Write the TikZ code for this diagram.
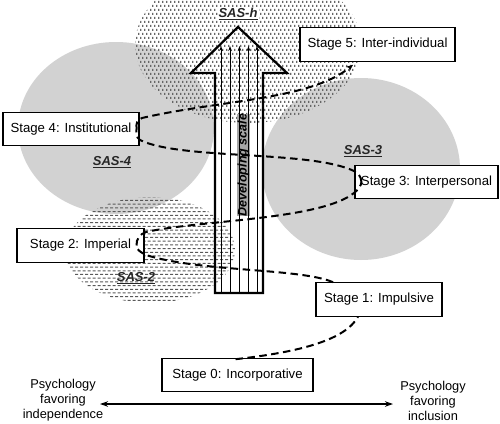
\documentclass[tikz,border=0pt]{standalone}
\usepackage{fontspec}
\setmainfont{Liberation Sans}
\usetikzlibrary{arrows.meta,patterns}
\pgfdeclarepatternformonly{sasdots}{\pgfqpoint{-1pt}{-1pt}}{\pgfqpoint{9pt}{9pt}}{\pgfqpoint{8pt}{8pt}}{%
  \pgfpathrectangle{\pgfqpoint{0pt}{0pt}}{\pgfqpoint{1.3pt}{2.2pt}}%
  \pgfpathrectangle{\pgfqpoint{4pt}{0pt}}{\pgfqpoint{1.3pt}{2.2pt}}%
  \pgfpathrectangle{\pgfqpoint{2pt}{4pt}}{\pgfqpoint{1.3pt}{2.2pt}}%
  \pgfpathrectangle{\pgfqpoint{6pt}{4pt}}{\pgfqpoint{1.3pt}{2.2pt}}%
  \pgfusepath{fill}}
\pgfdeclarepatternformonly{sasdash}{\pgfqpoint{-1pt}{-1pt}}{\pgfqpoint{12pt}{9pt}}{\pgfqpoint{10pt}{7.4pt}}{%
  \pgfpathrectangle{\pgfqpoint{0pt}{0pt}}{\pgfqpoint{3pt}{1pt}}%
  \pgfpathrectangle{\pgfqpoint{5pt}{0pt}}{\pgfqpoint{3pt}{1pt}}%
  \pgfpathrectangle{\pgfqpoint{2.5pt}{3.7pt}}{\pgfqpoint{3pt}{1pt}}%
  \pgfpathrectangle{\pgfqpoint{7.5pt}{3.7pt}}{\pgfqpoint{3pt}{1pt}}%
  \pgfusepath{fill}}
\begin{document}
\begin{tikzpicture}[x=1pt,y=-1pt,
  stagebox/.style={draw,line width=1.1pt,fill=white,minimum height=33.5pt,inner sep=0pt,font=\fontsize{13.2}{15}\selectfont},
  saslabel/.style={font=\fontsize{13}{15}\selectfont\bfseries\itshape,text=black!85,inner sep=1pt},
  conn/.style={line width=2pt,dash pattern=on 7.5pt off 4.5pt},
  sidelabel/.style={align=center,font=\fontsize{12.8}{15}\selectfont,inner sep=0pt},
  innerline/.style={line width=0.8pt,-{Stealth[length=5pt,width=3.5pt]}}
  ]
\path[use as bounding box,fill=white] (0,0) rectangle (500,423);
% regions
\fill[gray!35] (116,128) ellipse [x radius=98pt, y radius=86pt];
\fill[gray!35] (361,169) ellipse [x radius=99pt, y radius=91pt];
\fill[pattern=sasdots,pattern color=black!60] (248,45) ellipse [x radius=113pt, y radius=78pt];
\fill[pattern=sasdash,pattern color=black!65] (150,250) ellipse [x radius=85pt, y radius=53pt];
% developing scale arrow
\node[fill=gray!70,inner sep=0.4pt,rotate=90,font=\fontsize{12.5}{15}\selectfont\bfseries\itshape] (devscale) at (243.5,165) {Developing scale};
\foreach \xx in {221,230,239.5,248.5,257}
  \draw[innerline] (\xx,293) -- (\xx,46);
\draw[line width=2.2pt,line join=miter] (215,293) -- (215,73) -- (191,73) -- (238,27) -- (287,73) -- (263,73) -- (263,293) -- cycle;
% labels
\node[saslabel,fill=white] (sash) at (238,14) {\underline{SAS-h}};
\node[saslabel] (sas4) at (112,162) {\underline{SAS-4}};
\node[saslabel] (sas3) at (363,151) {\underline{SAS-3}};
\node[saslabel] (sas2) at (136,278) {\underline{SAS-2}};
% stages
\node[stagebox,minimum width=155pt] (s5) at (377.5,44.5) {Stage 5: Inter-individual};
\node[stagebox,minimum width=136pt] (s4) at (71,129) {Stage 4: Institutional};
\node[stagebox,minimum width=143pt] (s3) at (426.5,182) {Stage 3: Interpersonal};
\node[stagebox,minimum width=127pt] (s2) at (80.5,245.5) {Stage 2: Imperial\hspace{6pt}};
\node[stagebox,minimum width=126pt] (s1) at (379,299.5) {Stage 1: Impulsive};
\node[stagebox,minimum width=151pt] (s0) at (237.5,375) {Stage 0: Incorporative};
% connectors
\draw[conn] ([xshift=-2pt,yshift=-1.5pt]s0.north) .. controls (300,352) and (345,340) .. ([xshift=-21pt]s1.south);
\draw[conn] ([xshift=-46pt]s1.north) .. controls (300,268) and (200,272) .. (146,255) .. controls (140,252) and (136,249) .. ([xshift=-8pt]s2.east);
\draw[conn] ([xshift=-8pt]s2.east) .. controls (136,239) and (140,234) .. (146,232) .. controls (200,220) and (320,220) .. (354,193) .. controls (358,190) and (361,186) .. ([xshift=7pt]s3.west);
\draw[conn] ([xshift=7pt]s3.west) .. controls (361,176) and (358,173) .. (354,171) .. controls (310,150) and (180,160) .. (140,140) .. controls (136,137) and (136,134) .. ([xshift=-3pt]s4.east);
\draw[conn,-{Stealth[length=7pt,width=6pt]}] ([xshift=-3pt]s4.east) .. controls (136,123) and (137,120) .. (142,118) .. controls (220,100) and (310,100) .. ([xshift=-24.5pt,yshift=-3pt]s5.south);
% bottom axis
\node[sidelabel] (lind) at (63,400.5) {Psychology\\favoring\\independence};
\node[sidelabel] (linc) at (433,400.5) {Psychology\\favoring\\inclusion};
\coordinate (al) at (100,404);
\coordinate (ar) at (393,404);
\draw[line width=1.2pt,{Stealth[length=8pt,width=5.5pt]}-{Stealth[length=8pt,width=5.5pt]}] (al) -- (ar);
\end{tikzpicture}
\end{document}
